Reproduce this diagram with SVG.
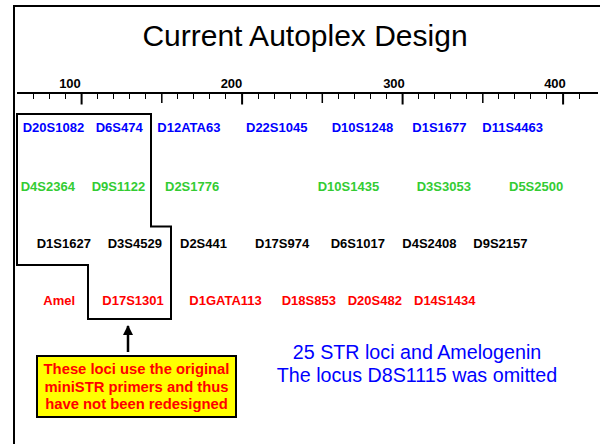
<svg xmlns="http://www.w3.org/2000/svg" width="600" height="444" viewBox="0 0 600 444">
<defs>
<style>
.loc{font-family:"Liberation Sans",Arial,sans-serif;font-weight:bold;font-size:13px}
.b{fill:#0000ff}.g{fill:#33cc33}.k{fill:#000}.r{fill:#ff0000}
.tl{font-family:"Liberation Sans",Arial,sans-serif;font-weight:bold;font-size:13px;fill:#000;text-anchor:middle}
.ln{stroke:#000;fill:none}
</style>
<marker id="ah" viewBox="0 0 10 10" refX="9" refY="5" markerWidth="4" markerHeight="4" orient="auto" markerUnits="strokeWidth">
<path d="M0,0 L10,5 L0,10 z" fill="#000"/>
</marker>
</defs>
<rect x="0" y="0" width="600" height="444" fill="#fff"/>
<g id="frame">
<path class="ln" stroke-width="2" d="M14,444 V6 H600"/>
</g>
<text x="305" y="46" font-family="'Liberation Sans',Arial,sans-serif" font-size="30" text-anchor="middle" fill="#000">Current Autoplex Design</text>
<g id="axis">
<line class="ln" stroke-width="2" x1="17" y1="93" x2="598" y2="93"/>
<path class="ln" stroke-width="1" d="M33.5,93V99M49.5,93V99M65.5,93V99M97.5,93V99M113.5,93V99M129.5,93V99M145.5,93V99M177.5,93V99M193.5,93V99M209.5,93V99M225.5,93V99M258.5,93V99M274.5,93V99M290.5,93V99M306.5,93V99M338.5,93V99M354.5,93V99M370.5,93V99M386.5,93V99M418.5,93V99M434.5,93V99M450.5,93V99M466.5,93V99M498.5,93V99M514.5,93V99M530.5,93V99M546.5,93V99M579.5,93V99"/>
<path class="ln" stroke-width="1.5" d="M161.8,93V103M322.3,93V103M482.8,93V103"/>
<path class="ln" stroke-width="2" d="M81.6,93V104.5M242.1,93V104.5M402.6,93V104.5M563.1,93V104.5"/>
<text class="tl" x="70" y="88">100</text>
<text class="tl" x="231.5" y="88">200</text>
<text class="tl" x="394" y="88">300</text>
<text class="tl" x="555" y="88">400</text>
</g>
<g id="row1" class="loc b">
<text x="22.7" y="132">D20S1082</text>
<text x="95.7" y="132">D6S474</text>
<text x="157.3" y="132">D12ATA63</text>
<text x="246" y="132">D22S1045</text>
<text x="331.7" y="132">D10S1248</text>
<text x="412.3" y="132">D1S1677</text>
<text x="482.3" y="132">D11S4463</text>
</g>
<g id="row2" class="loc g">
<text x="20.7" y="190.5">D4S2364</text>
<text x="91.7" y="190.5">D9S1122</text>
<text x="165" y="190.5">D2S1776</text>
<text x="317.7" y="190.5">D10S1435</text>
<text x="416.7" y="190.5">D3S3053</text>
<text x="509" y="190.5">D5S2500</text>
</g>
<g id="row3" class="loc k">
<text x="36.7" y="248">D1S1627</text>
<text x="107.7" y="248">D3S4529</text>
<text x="180" y="248">D2S441</text>
<text x="255" y="248">D17S974</text>
<text x="330.7" y="248">D6S1017</text>
<text x="402.3" y="248">D4S2408</text>
<text x="473.3" y="248">D9S2157</text>
</g>
<g id="row4" class="loc r">
<text x="43.3" y="305">Amel</text>
<text x="102.3" y="305">D17S1301</text>
<text x="189.3" y="305">D1GATA113</text>
<text x="281.7" y="305">D18S853</text>
<text x="347.7" y="305">D20S482</text>
<text x="414" y="305">D14S1434</text>
</g>
<g id="original-loci-outline">
<path class="ln" stroke-width="2" d="M17,114 H151 V226.5 H171 V319 H88 V265 H17 Z"/>
</g>
<g id="connectors">
<line class="ln" stroke-width="2.5" x1="128" y1="352" x2="128" y2="326" marker-end="url(#ah)"/>
</g>
<g id="note">
<rect x="37" y="356" width="199" height="61" fill="#ffff00" stroke="#000" stroke-width="2"/>
<g font-family="'Liberation Sans',Arial,sans-serif" font-weight="bold" font-size="14.8" fill="#ff0000" text-anchor="middle">
<text x="136.5" y="374">These loci use the original</text>
<text x="136.5" y="391.5">miniSTR primers and thus</text>
<text x="136.5" y="409">have not been redesigned</text>
</g>
</g>
<g id="summary" font-family="'Liberation Sans',Arial,sans-serif" font-size="19.7" fill="#0000ff" text-anchor="middle">
<text x="417" y="359">25 STR loci and Amelogenin</text>
<text x="417" y="381.5">The locus D8S1115 was omitted</text>
</g>
</svg>
